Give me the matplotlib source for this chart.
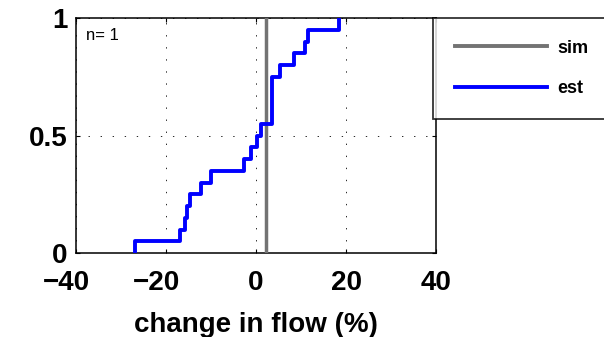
import numpy as np
import matplotlib
matplotlib.use("Agg")
import matplotlib.pyplot as plt
import matplotlib.transforms as mtransforms

plt.rcParams['font.family'] = ['Liberation Sans', 'DejaVu Sans']

# data
est_values = [-26.9, -16.9, -15.8, -15.4, -14.7, -12.2, -9.9, -2.7, -1.2, 0.3,
              1.1, 3.5, 3.5, 3.5, 3.5, 5.3, 8.5, 10.9, 11.6, 18.5]
sim_value = 2.2
n_label = "n= 1"
xticks = [-40, -20, 0, 20, 40]
yticks = [0, 0.5, 1]
ytick_labels = ["0", "0.5", "1"]
xlabel = "change in flow (%)"
series_names = ["sim", "est"]

fig = plt.figure(figsize=(6.04, 3.37), dpi=100)
ax = fig.add_axes([76/604, 1-253/337, (436-76)/604, (253-18)/337])

# ECDF of est
xs = np.sort(np.asarray(est_values))
n = len(xs)
F = np.arange(1, n + 1) / n
sx = np.concatenate([[xs[0]], xs])
sy = np.concatenate([[0.0], F])

h_sim = ax.axvline(sim_value, color=(0.45, 0.45, 0.45), lw=2.5, zorder=3)
h_est, = ax.step(sx, sy, where='post', color=(0, 0, 1), lw=2.8, zorder=4)

ax.set_xlim(-40, 40)
ax.set_ylim(0, 1)
ax.set_xticks(xticks)
ax.set_yticks(yticks)
ax.set_yticklabels(ytick_labels)
ax.grid(True, color='0.15', linestyle=(0, (1.4, 11)), lw=0.7)
ax.tick_params(direction='in', length=3, width=0.8, top=True, right=True,
               labelsize=20, pad=6)
ax.tick_params(axis='x', pad=12)
for lab in ax.get_xticklabels() + ax.get_yticklabels():
    lab.set_fontweight('bold')
# negative tick labels sit slightly left, as in the reference
shift = mtransforms.ScaledTranslation(-10/100, 0, fig.dpi_scale_trans)
for val, lab in zip(xticks, ax.get_xticklabels()):
    if val < 0:
        lab.set_transform(lab.get_transform() + shift)
for s in ax.spines.values():
    s.set_linewidth(1.1)

ax.set_xlabel(xlabel, fontsize=20, fontweight='bold', labelpad=12)
ax.text(0.028, 0.925, n_label, transform=ax.transAxes, fontsize=12,
        ha='left', va='center')

leg = fig.legend([h_sim, h_est], series_names,
                 loc='upper left', bbox_to_anchor=(433/604, 1-18/337),
                 bbox_transform=fig.transFigure, frameon=True, fancybox=False,
                 prop={'size': 13, 'weight': 'bold'}, handlelength=5.1,
                 handletextpad=0.6, borderpad=1.2, labelspacing=1.3,
                 borderaxespad=0)
leg.get_frame().set_edgecolor('black')
leg.get_frame().set_linewidth(1.3)
for line in leg.get_lines():
    line.set_linewidth(2.8)

fig.savefig("out.png", dpi=100)
